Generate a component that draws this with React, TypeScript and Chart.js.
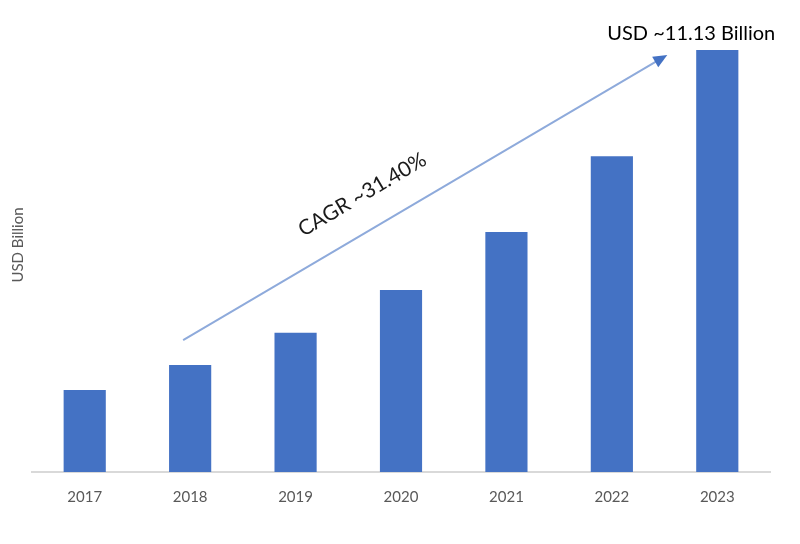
import React, { useEffect, useRef } from "react";
import { Chart, registerables } from "chart.js";

Chart.register(...registerables);

const categories = ["2017", "2018", "2019", "2020", "2021", "2022", "2023"];
const marketValues = [2.16, 2.82, 3.67, 4.8, 6.33, 8.33, 11.13];
const cagrLabel = "CAGR ~31.40%";
const endLabel = "USD ~11.13 Billion";
const yTitle = "USD Billion";

const FONT = "Lato, 'Open Sans', sans-serif";

const annotationPlugin = {
  id: "cagrArrow",
  afterDraw(chart: any) {
    const { ctx } = chart;
    const xs = chart.scales.x;
    const ys = chart.scales.y;
    const x0 = xs.getPixelForValue(1) - 7;
    const y0 = ys.getPixelForValue(3.48);
    const x1 = xs.getPixelForValue(6) - 50;
    const y1 = ys.getPixelForValue(11.0);
    ctx.save();
    ctx.strokeStyle = "#8eaadb";
    ctx.lineWidth = 2;
    const ang = Math.atan2(y1 - y0, x1 - x0);
    const headLen = 14;
    const lx = x1 - Math.cos(ang) * headLen * 0.8;
    const ly = y1 - Math.sin(ang) * headLen * 0.8;
    ctx.beginPath();
    ctx.moveTo(x0, y0);
    ctx.lineTo(lx, ly);
    ctx.stroke();
    ctx.fillStyle = "#4472c4";
    ctx.beginPath();
    ctx.moveTo(x1, y1);
    ctx.lineTo(
      x1 - headLen * Math.cos(ang) + 6 * Math.sin(ang),
      y1 - headLen * Math.sin(ang) - 6 * Math.cos(ang)
    );
    ctx.lineTo(
      x1 - headLen * Math.cos(ang) - 6 * Math.sin(ang),
      y1 - headLen * Math.sin(ang) + 6 * Math.cos(ang)
    );
    ctx.closePath();
    ctx.fill();

    // CAGR text
    const mx = x0 + (x1 - x0) * 0.37;
    const my = y0 + (y1 - y0) * 0.37 - 40;
    ctx.translate(mx, my);
    ctx.rotate(ang);
    ctx.fillStyle = "#1a1a1a";
    ctx.font = `21px ${FONT}`;
    ctx.textAlign = "center";
    ctx.textBaseline = "middle";
    ctx.fillText(cagrLabel, 0, 0);
    ctx.restore();

    // End label
    ctx.save();
    ctx.fillStyle = "#000000";
    ctx.font = `20px ${FONT}`;
    ctx.textAlign = "center";
    ctx.textBaseline = "middle";
    ctx.fillText(endLabel, xs.getPixelForValue(6) - 26, ys.getPixelForValue(11.13) - 16);
    ctx.restore();

    // y title
    ctx.save();
    ctx.translate(18, 245);
    ctx.rotate(-Math.PI / 2);
    ctx.fillStyle = "#595959";
    ctx.font = `15px ${FONT}`;
    ctx.textAlign = "center";
    ctx.textBaseline = "middle";
    ctx.fillText(yTitle, 0, 0);
    ctx.restore();
  },
};

export default function App() {
  const ref = useRef<HTMLCanvasElement | null>(null);
  useEffect(() => {
    if (!ref.current) return;
    const chart = new Chart(ref.current, {
      type: "bar",
      data: {
        labels: categories,
        datasets: [
          {
            data: marketValues,
            backgroundColor: "#4472c4",
            borderWidth: 0,
            categoryPercentage: 1,
            barPercentage: 0.4,
          },
        ],
      },
      options: {
        animation: false,
        responsive: false,
        maintainAspectRatio: false,
        layout: { padding: { left: 32, right: 30, top: 17, bottom: 30 } },
        plugins: { legend: { display: false }, tooltip: { enabled: false } },
        scales: {
          x: {
            grid: { display: false },
            border: { display: true, color: "#d9d9d9", width: 2 },
            ticks: {
              color: "#595959",
              font: { family: FONT, size: 15 },
              padding: 8,
            },
          },
          y: {
            display: false,
            min: 0,
            max: 12,
          },
        },
      },
      plugins: [annotationPlugin],
    });
    return () => chart.destroy();
  }, []);
  return (
    <div style={{ position: "fixed", left: 0, top: 0, width: 800, height: 544, background: "#fff" }}>
      <canvas ref={ref} width={800} height={544} style={{ width: 800, height: 544 }} />
    </div>
  );
}
